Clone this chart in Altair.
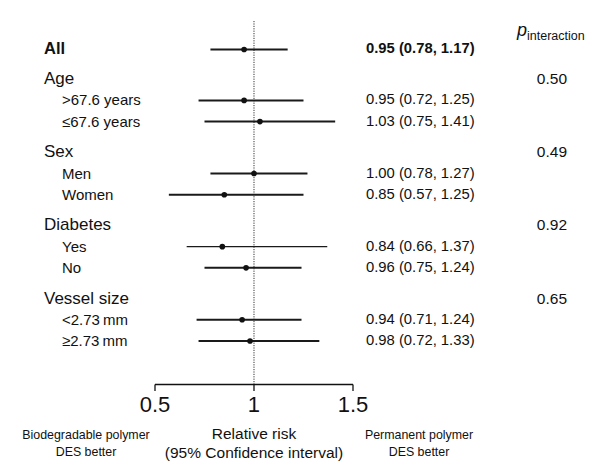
import altair as alt
import pandas as pd

# ---- data ----
labels = ["All", "Age", ">67.6 years", "\u226467.6 years", "Sex", "Men", "Women",
          "Diabetes", "Yes", "No", "Vessel size", "<2.73\u2009mm", "\u22652.73\u2009mm"]
kinds = ["all", "header", "sub", "sub", "header", "sub", "sub",
         "header", "sub", "sub", "header", "sub", "sub"]
est = [0.95, None, 0.95, 1.03, None, 1.00, 0.85, None, 0.84, 0.96, None, 0.94, 0.98]
lo = [0.78, None, 0.72, 0.75, None, 0.78, 0.57, None, 0.66, 0.75, None, 0.71, 0.72]
hi = [1.17, None, 1.25, 1.41, None, 1.27, 1.25, None, 1.37, 1.24, None, 1.24, 1.33]
p_int = [None, "0.50", None, None, "0.49", None, None, "0.92", None, None, "0.65", None, None]
tick_vals = [0.5, 1.0, 1.5]
tick_text = ["0.5", "1", "1.5"]

# ---- row positions from the grouping structure ----
pos = []
cur = 0.0
for i, k in enumerate(kinds):
    if i == 0:
        cur = 0.0
    elif k == "header":
        cur += 1.4 if kinds[i - 1] == "all" else 1.45
    else:
        cur += 1.0
    pos.append(cur)

df = pd.DataFrame({"label": labels, "kind": kinds, "est": est, "lo": lo, "hi": hi,
                   "p": p_int, "pos": pos})
df["estxt"] = [
    f"{e:.2f} ({l:.2f}, {h:.2f})" if pd.notna(e) else ""
    for e, l, h in zip(df["est"], df["lo"], df["hi"])
]
ticks = pd.DataFrame({"v": tick_vals, "t": tick_text})

W, H = 578, 455
FONT = "Liberation Sans"
xs = alt.Scale(domain=[-0.2424, 2.6768], nice=False, zero=False)
ys = alt.Scale(domain=[-1.9575, 19.505], nice=False, zero=False, reverse=True)
X = lambda f: alt.X(f, type="quantitative", scale=xs, axis=None)
Y = alt.Y("pos:Q", scale=ys, axis=None)

base = alt.Chart(df)
data_rows = base.transform_filter("isValid(datum.est)")

ci = data_rows.mark_rule(color="#1a1a1a").encode(
    x=X("lo"), x2="hi", y=Y,
    strokeWidth=alt.condition("datum.label == 'Yes'", alt.value(1.1), alt.value(2.0)),
)
pts = data_rows.mark_point(filled=True, shape="circle", size=32, color="#111", opacity=1).encode(
    x=X("est"), y=Y)

lab_all = base.transform_filter("datum.kind == 'all'").mark_text(
    align="left", baseline="middle", font=FONT, fontSize=16.5, fontWeight="bold", color="#111"
).encode(x=alt.value(36), y=Y, text="label:N")
lab_head = base.transform_filter("datum.kind == 'header'").mark_text(
    align="left", baseline="middle", font=FONT, fontSize=17, color="#111"
).encode(x=alt.value(36), y=Y, text="label:N")
lab_sub = base.transform_filter("datum.kind == 'sub'").mark_text(
    align="left", baseline="middle", font=FONT, fontSize=15, color="#111"
).encode(x=alt.value(54), y=Y, text="label:N")

est_all = base.transform_filter("datum.kind == 'all'").mark_text(
    align="left", baseline="middle", font=FONT, fontSize=14.8, fontWeight="bold", color="#111"
).encode(x=alt.value(358), y=Y, text="estxt:N")
est_sub = base.transform_filter("datum.kind == 'sub'").mark_text(
    align="left", baseline="middle", font=FONT, fontSize=14.8, color="#111"
).encode(x=alt.value(358), y=Y, text="estxt:N")

pv = base.transform_filter("isValid(datum.p)").mark_text(
    align="right", baseline="middle", font=FONT, fontSize=15.5, color="#111"
).encode(x=alt.value(559), y=Y, text="p:N")

ref = alt.Chart(pd.DataFrame({"v": [1.0]})).mark_rule(
    color="#333", strokeWidth=1, strokeDash=[1.2, 1.2]
).encode(x=X("v"), y=alt.value(13), y2=alt.value(377))

axis_line = alt.Chart(pd.DataFrame({"a": [tick_vals[0]], "b": [tick_vals[-1]]})).mark_rule(
    color="#111", strokeWidth=1.3
).encode(x=X("a"), x2="b", y=alt.value(376.5))
axis_ticks = alt.Chart(ticks).mark_rule(color="#111", strokeWidth=1.3).encode(
    x=X("v"), y=alt.value(376.5), y2=alt.value(383))
axis_lab = alt.Chart(ticks).mark_text(
    align="center", baseline="middle", font=FONT, fontSize=22, color="#111"
).encode(x=X("v"), y=alt.value(397), text="t:N")


def fixed_text(txt, x, y, size, **kw):
    return alt.Chart(pd.DataFrame({"t": [txt]})).mark_text(
        font=FONT, fontSize=size, color="#111", baseline="middle", **kw
    ).encode(x=alt.value(x), y=alt.value(y), text="t:N")


notes = [
    fixed_text("Biodegradable polymer", 78, 427, 12.4, align="center"),
    fixed_text("DES better", 78, 444, 12.4, align="center"),
    fixed_text("Relative risk", 246, 426, 15.5, align="center"),
    fixed_text("(95% Confidence interval)", 246, 445, 15.5, align="center"),
    fixed_text("Permanent polymer", 411, 427, 12.4, align="center"),
    fixed_text("DES better", 411, 444, 12.4, align="center"),
    fixed_text("p", 509, 23, 18, align="left", fontStyle="italic"),
    fixed_text("interaction", 519, 28, 12.5, align="left"),
]

chart = alt.layer(
    ref, ci, pts, lab_all, lab_head, lab_sub, est_all, est_sub, pv,
    axis_line, axis_ticks, axis_lab, *notes
).properties(
    width=W, height=H, padding=0, autosize=alt.AutoSizeParams(type="none"),
    background="white"
).configure_view(strokeWidth=0)

chart.save("out.html", embed_options={"renderer": "svg", "actions": False})
